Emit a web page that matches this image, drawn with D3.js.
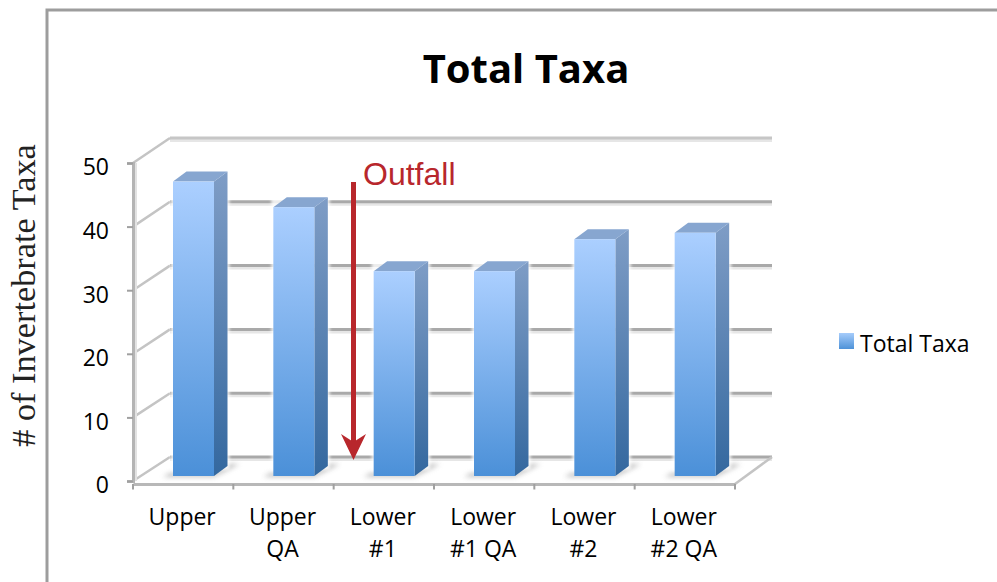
<!DOCTYPE html>
<html>
<head>
<meta charset="utf-8">
<script src="https://cdn.jsdelivr.net/npm/d3@7"></script>
<style>
  html, body { margin: 0; padding: 0; background: #fff; }
  svg { display: block; }
</style>
</head>
<body>
<svg id="chart" width="997" height="582"></svg>
<script>
const categories = ["Upper", "Upper QA", "Lower #1", "Lower #1 QA", "Lower #2", "Lower #2 QA"];
const categoryLines = [["Upper"], ["Upper", "QA"], ["Lower", "#1"], ["Lower", "#1 QA"], ["Lower", "#2"], ["Lower", "#2 QA"]];
const totalTaxa = [46, 42, 32, 32, 37, 38];
const yTicks = [0, 10, 20, 30, 40, 50];

const svg = d3.select("#chart");
const defs = svg.append("defs");

const floorLeft = 133, floorRight = 735, depthX = 37;
const labelFont = "'Open Sans'", labelSize = "23px";

const x = d3.scaleBand().domain(categories).range([floorLeft, floorRight]);
// the 3D box has three planes: front axis, bars half way in, back wall
const y = d3.scaleLinear().domain([0, 50]).range([481, 163]);
const yBack = d3.scaleLinear().domain([0, 50]).range([457, 138]);
const yBar = d3.scaleLinear().domain([0, 50]).range([476, 156]);

function gradient(id, top, bottom) {
  const g = defs.append("linearGradient").attr("id", id)
    .attr("x1", 0).attr("x2", 0).attr("y1", 0).attr("y2", 1);
  g.append("stop").attr("offset", "0%").attr("stop-color", top);
  g.append("stop").attr("offset", "100%").attr("stop-color", bottom);
}
gradient("face", "#abcfff", "#4b90d8");
gradient("side", "#7f9dc6", "#34689f");
gradient("legendFace", "#a6ccfb", "#4e92d8");

defs.append("filter").attr("id", "soft").append("feGaussianBlur").attr("stdDeviation", 0.6);
defs.append("filter").attr("id", "halo")
  .attr("x", "-30%").attr("y", "-10%").attr("width", "160%").attr("height", "120%")
  .append("feGaussianBlur").attr("stdDeviation", 1.5);
defs.append("filter").attr("id", "shadow")
  .attr("x", "-30%").attr("y", "-80%").attr("width", "160%").attr("height", "260%")
  .append("feGaussianBlur").attr("stdDeviation", 2.5);

// chart frame
svg.append("path")
  .attr("d", "M47,582V10H997")
  .attr("fill", "none")
  .attr("stroke", "#9d9d9d")
  .attr("stroke-width", 3);

svg.append("text")
  .attr("x", 526).attr("y", 83)
  .attr("text-anchor", "middle")
  .style("font-family", labelFont)
  .style("font-weight", 700)
  .style("font-size", "40px")
  .text("Total Taxa");

// back wall and floor
const grid = svg.append("g").attr("filter", "url(#soft)");

grid.selectAll(".backShade")
  .data(yTicks)
  .join("line")
  .attr("class", "backShade")
  .attr("x1", floorLeft + depthX).attr("x2", floorRight + depthX)
  .attr("y1", d => yBack(d) + 2.5).attr("y2", d => yBack(d) + 2.5)
  .attr("stroke", "#e6e6e6")
  .attr("stroke-width", 3);

grid.selectAll(".back")
  .data(yTicks)
  .join("line")
  .attr("class", "back")
  .attr("x1", floorLeft + depthX).attr("x2", floorRight + depthX)
  .attr("y1", d => yBack(d)).attr("y2", d => yBack(d))
  .attr("stroke", d => d === 50 ? "#c6c6c6" : "#a9a9a9")
  .attr("stroke-width", 3);

grid.selectAll(".wall")
  .data(yTicks)
  .join("line")
  .attr("class", "wall")
  .attr("x1", floorLeft).attr("x2", floorLeft + depthX)
  .attr("y1", d => y(d)).attr("y2", d => yBack(d))
  .attr("stroke", "#c4c4c4")
  .attr("stroke-width", 2.5);

grid.append("line")
  .attr("x1", floorRight).attr("x2", floorRight + depthX)
  .attr("y1", y(0) + 3).attr("y2", yBack(0))
  .attr("stroke", "#c4c4c4")
  .attr("stroke-width", 2.5);

// y axis
grid.append("line")
  .attr("x1", floorLeft + 2.5).attr("x2", floorLeft + 2.5)
  .attr("y1", y(50)).attr("y2", y(0))
  .attr("stroke", "#e2e2e2")
  .attr("stroke-width", 3);

const yAxis = svg.append("g")
  .attr("transform", `translate(${floorLeft},0)`)
  .call(d3.axisLeft(y).tickValues(yTicks).tickSize(6).tickPadding(18));
yAxis.select(".domain").attr("stroke", "#b4b4b4").attr("stroke-width", 3);
yAxis.selectAll(".tick line").attr("stroke", "#a0a0a0").attr("stroke-width", 2);
yAxis.selectAll(".tick text")
  .attr("fill", "#000")
  .attr("dy", "0.52em")
  .style("font-family", labelFont)
  .style("font-size", labelSize);

// x axis
const xAxis = svg.append("g")
  .attr("transform", `translate(0,${y(0) + 3})`)
  .call(d3.axisBottom(x).tickSize(0).tickFormat(""));
xAxis.select(".domain").attr("stroke", "#b8b8b8").attr("stroke-width", 3);
xAxis.selectAll(".sep")
  .data(d3.range(categories.length + 1))
  .join("line")
  .attr("class", "sep")
  .attr("x1", i => floorLeft + i * x.step()).attr("x2", i => floorLeft + i * x.step())
  .attr("y1", 0).attr("y2", 5.5)
  .attr("stroke", "#a0a0a0")
  .attr("stroke-width", 2);

const labels = svg.selectAll(".cat")
  .data(categories)
  .join("text")
  .attr("class", "cat")
  .attr("text-anchor", "middle")
  .style("font-family", labelFont)
  .style("font-size", labelSize)
  .attr("fill", "#000");
labels.each(function(d, i) {
  d3.select(this).selectAll("tspan")
    .data(categoryLines[i])
    .join("tspan")
    .attr("x", x(d) + x.bandwidth() / 2 - 1)
    .attr("y", (t, j) => 525 + j * 32)
    .text(t => t);
});

// bars
const barOffset = 40, barWidth = 41, barDx = 13.5, barDy = 10;
const barBase = yBar(0);

const bars = svg.selectAll(".bar")
  .data(categories)
  .join("g")
  .attr("class", "bar")
  .attr("transform", d => `translate(${x(d) + barOffset},0)`);

bars.append("path")
  .attr("d", `M-10,${barBase + 1}L${barWidth},${barBase + 1}L${barWidth + barDx + 12},${barBase - barDy - 2}L${barWidth + barDx},${barBase - barDy - 2}L${barWidth},${barBase - 3}L-3,${barBase - 3}Z`)
  .attr("fill", "#949494")
  .attr("opacity", 0.6)
  .attr("filter", "url(#shadow)");

bars.append("rect")
  .attr("x", -2).attr("width", barWidth + barDx + 4)
  .attr("y", (d, i) => yBar(totalTaxa[i]) - barDy - 2)
  .attr("height", (d, i) => barBase - yBar(totalTaxa[i]) + barDy - 4)
  .attr("fill", "#fff")
  .attr("opacity", 0.8)
  .attr("filter", "url(#halo)");

bars.append("path")
  .attr("d", (d, i) => `M${barWidth},${yBar(totalTaxa[i])}l${barDx},${-barDy}V${barBase - barDy}L${barWidth},${barBase}Z`)
  .attr("fill", "url(#side)");

bars.append("path")
  .attr("d", (d, i) => `M0,${yBar(totalTaxa[i])}l${barDx},${-barDy}h${barWidth}l${-barDx},${barDy}Z`)
  .attr("fill", "#87a6d0");

bars.append("rect")
  .attr("x", 0).attr("width", barWidth)
  .attr("y", (d, i) => yBar(totalTaxa[i]))
  .attr("height", (d, i) => barBase - yBar(totalTaxa[i]))
  .attr("fill", "url(#face)");

// outfall annotation
svg.append("line")
  .attr("x1", 353.5).attr("x2", 353.5)
  .attr("y1", 182).attr("y2", 444)
  .attr("stroke", "#b8272c")
  .attr("stroke-width", 5);
svg.append("path")
  .attr("d", "M341,434L353.5,442L366,434L353.5,460Z")
  .attr("fill", "#b8272c");
svg.append("text")
  .attr("x", 363).attr("y", 185)
  .style("font-family", "'Liberation Sans'")
  .style("font-size", "32px")
  .attr("fill", "#b8272c")
  .text("Outfall");

// y title
svg.append("text")
  .attr("transform", "translate(35,295.5) rotate(-90)")
  .attr("text-anchor", "middle")
  .style("font-family", "'Liberation Serif'")
  .style("font-size", "34.3px")
  .attr("fill", "#222")
  .text("# of Invertebrate Taxa");

// legend
svg.append("rect")
  .attr("x", 839).attr("y", 333)
  .attr("width", 15).attr("height", 16)
  .attr("fill", "url(#legendFace)");
svg.append("text")
  .attr("x", 860).attr("y", 352)
  .style("font-family", labelFont)
  .style("font-size", labelSize)
  .text("Total Taxa");
</script>
</body>
</html>
